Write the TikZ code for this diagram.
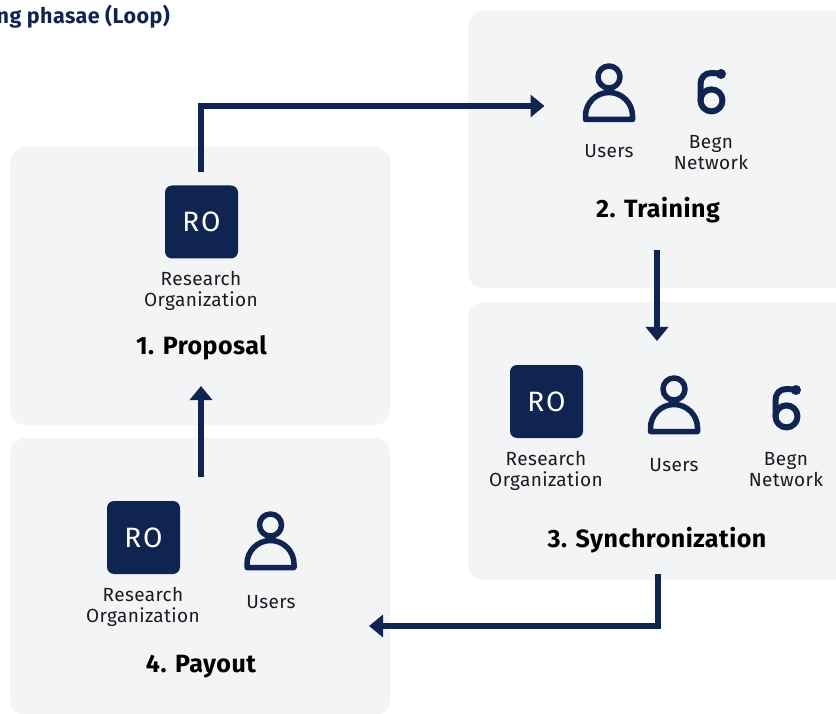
\documentclass[tikz,border=0pt]{standalone}
\usepackage{fontspec}
\setmainfont[LetterSpace=2]{Fira Sans}
\newfontfamily\rofont[LetterSpace=7]{Fira Sans}
\usetikzlibrary{arrows.meta}
\definecolor{navy}{HTML}{0F2451}
\definecolor{panelbg}{HTML}{F2F4F6}
\definecolor{ink}{HTML}{1B1B1F}
\tikzset{
  x=1pt,y=-1pt,
  panel/.style={fill=panelbg,draw=none,rounded corners=15pt},
  robox/.style={fill=navy,rounded corners=7pt,minimum size=73pt,inner sep=0pt,text=white,font=\rofont\fontsize{28}{28}\selectfont},
  lbl/.style={text=ink,align=center,font=\fontsize{19}{21}\selectfont,inner sep=0pt},
  ttl/.style={text=black,font=\bfseries\fontsize{25}{28}\selectfont,inner sep=0pt},
  flow/.style={draw=navy,line width=5.5pt,-{Triangle[length=14pt,width=22pt]}},
  iconline/.style={draw=navy,line width=5.5pt,line cap=round,line join=round,fill=none},
  pics/usericon/.style={code={
    \draw[iconline] (0,-31) circle[radius=11];
    \draw[iconline] (-23.5,11.5) -- (-23.5,8) arc[start angle=180,end angle=360,radius=23.5] -- (23.5,11.5) -- cycle;
  }},
  pics/begnicon/.style={code={
    \draw[iconline,line width=6pt] (9.5,-18) .. controls (6,-18.5) and (3,-19) .. (0,-19)
      .. controls (-7,-19) and (-11,-14) .. (-11,-8) -- (-11,8.4);
    \draw[iconline,line width=6pt] (0,8.4) circle[radius=11];
    \fill[navy] (9.5,-18) circle[radius=5];
  }},
}
\begin{document}
\begin{tikzpicture}
\useasboundingbox (0,0) rectangle (836,714);
\clip (0,0) rectangle (836,714);
% panels
\node[panel,minimum width=380pt,minimum height=278pt,anchor=north west] (p1) at (10,147) {};
\node[panel,minimum width=400pt,minimum height=277pt,anchor=north west] (p2) at (468,11) {};
\node[panel,minimum width=400pt,minimum height=278pt,anchor=north west] (p3) at (468,302) {};
\node[panel,minimum width=380pt,minimum height=277pt,anchor=north west] (p4) at (10,438) {};
% heading
\node[anchor=east,inner sep=0pt,text=navy,font=\bfseries\fontsize{21.5}{24}\selectfont] (head) at (170,17) {ng phasae (Loop)};
% panel 1
\node[robox] (ro1) at (201.5,222) {RO};
\node[lbl] (ro1l) at (201,291) {Research\\Organization};
\node[ttl] (t1) at (201.5,348) {1. Proposal};
% panel 2
\pic at (609,108) {usericon};
\pic at (711.5,92) {begnicon};
\node[lbl] (u2l) at (609,151) {Users};
\node[lbl] (b2l) at (711,153) {Begn\\Network};
\node[ttl] (t2) at (658,210) {2. Training};
% panel 3
\node[robox] (ro3) at (546.5,401.5) {RO};
\node[lbl] (ro3l) at (546,471) {Research\\Organization};
\pic at (674,420) {usericon};
\pic at (786.5,408) {begnicon};
\node[lbl] (u3l) at (674,465) {Users};
\node[lbl] (b3l) at (786,470) {Begn\\Network};
\node[ttl] (t3) at (657,540) {3. Synchronization};
% panel 4
\node[robox] (ro4) at (143.5,537.5) {RO};
\node[lbl] (ro4l) at (143,607) {Research\\Organization};
\pic at (270.5,556) {usericon};
\node[lbl] (u4l) at (271,602) {Users};
\node[ttl] (t4) at (201,667) {4. Payout};
% connector ends
\coordinate (a1s) at (201,172);
\coordinate (a1e) at (544.5,106);
\coordinate (a2s) at (657,250);
\coordinate (a2e) at (657,341);
\coordinate (a3s) at (658,574);
\coordinate (a3e) at (369,626);
\coordinate (a4s) at (201,477);
\coordinate (a4e) at (201,386);
\draw[flow] (a1s) |- (a1e);
\draw[flow] (a2s) -- (a2e);
\draw[flow] (a3s) |- (a3e);
\draw[flow] (a4s) -- (a4e);
\end{tikzpicture}
\end{document}
